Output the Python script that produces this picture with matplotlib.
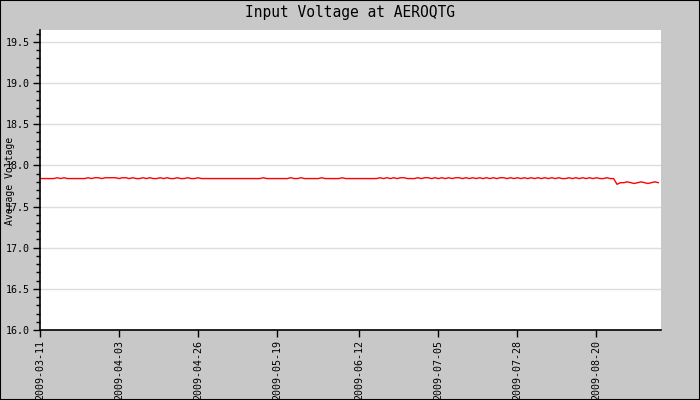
import matplotlib
matplotlib.use("Agg")
import matplotlib.pyplot as plt
from matplotlib.ticker import MultipleLocator, FormatStrFormatter
from matplotlib.patches import Rectangle
import datetime as dt

title = "Input Voltage at AEROQTG"
ylabel = "Average Voltage"
start_date = "2009-03-11"
tick_labels = ["2009-03-11", "2009-04-03", "2009-04-26", "2009-05-19",
               "2009-06-12", "2009-07-05", "2009-07-28", "2009-08-20"]
voltage = [
    17.84, 17.84, 17.84, 17.84, 17.84, 17.85, 17.84, 17.85, 17.84, 17.84,
    17.84, 17.84, 17.84, 17.84, 17.85, 17.84, 17.85, 17.85, 17.84, 17.85,
    17.85, 17.85, 17.85, 17.84, 17.85, 17.85, 17.84, 17.85, 17.84, 17.84,
    17.85, 17.84, 17.85, 17.84, 17.84, 17.85, 17.84, 17.85, 17.84, 17.84,
    17.85, 17.84, 17.84, 17.85, 17.84, 17.84, 17.85, 17.84, 17.84, 17.84,
    17.84, 17.84, 17.84, 17.84, 17.84, 17.84, 17.84, 17.84, 17.84, 17.84,
    17.84, 17.84, 17.84, 17.84, 17.84, 17.85, 17.84, 17.84, 17.84, 17.84,
    17.84, 17.84, 17.84, 17.85, 17.84, 17.84, 17.85, 17.84, 17.84, 17.84,
    17.84, 17.84, 17.85, 17.84, 17.84, 17.84, 17.84, 17.84, 17.85, 17.84,
    17.84, 17.84, 17.84, 17.84, 17.84, 17.84, 17.84, 17.84, 17.84, 17.85,
    17.84, 17.85, 17.84, 17.85, 17.84, 17.85, 17.85, 17.84, 17.84, 17.84,
    17.85, 17.84, 17.85, 17.85, 17.84, 17.85, 17.84, 17.85, 17.84, 17.85,
    17.84, 17.85, 17.85, 17.84, 17.85, 17.84, 17.85, 17.84, 17.85, 17.84,
    17.85, 17.84, 17.85, 17.84, 17.85, 17.85, 17.84, 17.85, 17.84, 17.85,
    17.84, 17.85, 17.84, 17.85, 17.84, 17.85, 17.84, 17.85, 17.84, 17.85,
    17.84, 17.85, 17.84, 17.84, 17.85, 17.84, 17.85, 17.84, 17.85, 17.84,
    17.85, 17.84, 17.85, 17.84, 17.84, 17.85, 17.84, 17.84,
    17.77, 17.79, 17.79, 17.80, 17.79, 17.78, 17.79, 17.80, 17.79, 17.78,
    17.79, 17.80, 17.79,
]

t0 = dt.datetime.strptime(start_date, "%Y-%m-%d")
dates = [t0 + dt.timedelta(days=i) for i in range(len(voltage))]
tick_dates = [dt.datetime.strptime(s, "%Y-%m-%d") for s in tick_labels]

GRAY = "#c8c8c8"
mono = "DejaVu Sans Mono"

fig = plt.figure(figsize=(7, 4), dpi=100, facecolor=GRAY)
ax = fig.add_axes([40/700, 70/400, 621/700, 300/400])
ax.set_facecolor("white")

ax.plot(dates, voltage, color="red", linewidth=1.0)

ax.set_ylim(16.0, 19.645)
ax.set_xlim(t0, t0 + dt.timedelta(days=180.8))
ax.yaxis.set_major_locator(MultipleLocator(0.5))
ax.yaxis.set_minor_locator(MultipleLocator(0.1))
ax.yaxis.set_major_formatter(FormatStrFormatter("%.1f"))
ax.grid(axis="y", which="major", color="#dddddd", linewidth=1)
ax.set_axisbelow(True)

ax.set_xticks(tick_dates)
ax.set_xticklabels(tick_labels, rotation=90, fontfamily=mono, fontsize=7.2)
ax.xaxis.set_minor_locator(plt.NullLocator())

for lab in ax.get_yticklabels():
    lab.set_fontfamily(mono)
    lab.set_fontsize(7.2)

ax.tick_params(axis="y", which="major", length=5, width=1, direction="out", pad=2, colors="black")
ax.tick_params(axis="y", which="minor", length=3, width=1, direction="out")
ax.tick_params(axis="x", which="major", length=5, width=1, direction="out", pad=2)

for s in ["top", "right"]:
    ax.spines[s].set_visible(False)
for s in ["left", "bottom"]:
    ax.spines[s].set_linewidth(1.2)
    ax.spines[s].set_color("black")

fig.text(0.5, 1 - 12/400, title, ha="center", va="center", fontfamily=mono, fontsize=10.5)
fig.text(10/700, 1 - 181/400, ylabel, ha="center", va="center", rotation=90,
         fontfamily=mono, fontsize=7.0)

fig.patches.append(Rectangle((0, 0), 1, 1, transform=fig.transFigure, fill=False,
                             edgecolor="black", linewidth=1.5))

fig.savefig("out.png", dpi=100, facecolor=GRAY)
